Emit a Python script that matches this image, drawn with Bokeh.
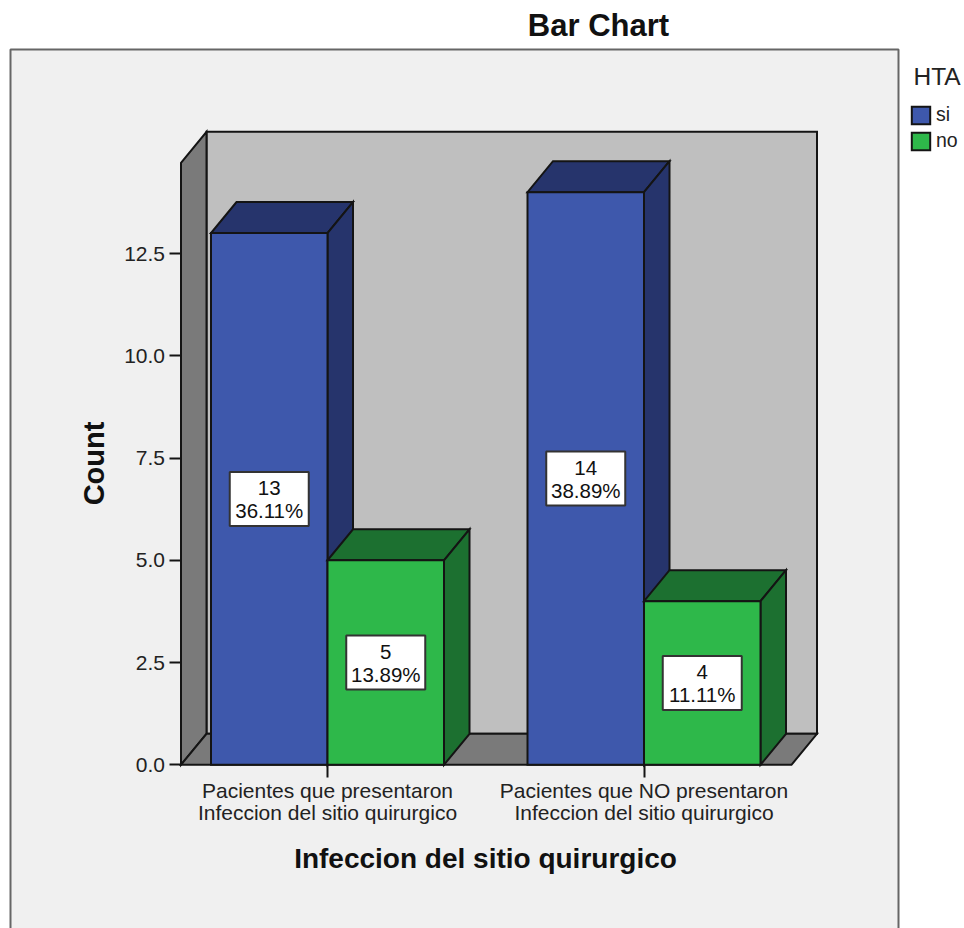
from bokeh.embed import file_html
from bokeh.resources import INLINE
from bokeh.plotting import figure
from bokeh.core.properties import value
from bokeh.models import (BoxAnnotation, FixedTicker, Label, Legend, LegendItem,
                          LinearAxis, NumeralTickFormatter)

# Chart values
group_labels = ["Pacientes que presentaron\nInfeccion del sitio quirurgico",
                "Pacientes que NO presentaron\nInfeccion del sitio quirurgico"]
series_names = ["si", "no"]
si_counts = [13, 14]
no_counts = [5, 4]
si_percent = ["36.11%", "38.89%"]
no_percent = ["13.89%", "11.11%"]
y_ticks = [0, 2.5, 5, 7.5, 10, 12.5]
y_top = 14.72

# Scale of the plot area
W, H = 964, 928
PX_X = 316.5   # pixels per category step
PX_Y = 40.9    # pixels per count
X0, Y0 = 327, 764.3  # pixel position of the first category at count 0
BAR = 116.5 / PX_X
DX, DY = 25.5 / PX_X, 31 / PX_Y  # depth of the 3-D box in data units
EDGE = "#141414"
FONT = "Liberation Sans"
x_left = -30 / PX_X - BAR
x_right = 1 + BAR + 31 / PX_X

p = figure(width=W, height=H, output_backend="svg", toolbar_location=None,
           x_range=(-X0 / PX_X, (W - X0) / PX_X),
           y_range=((Y0 - H) / PX_Y, Y0 / PX_Y),
           min_border=0, x_axis_type=None, y_axis_type=None)
p.grid.visible = False
p.outline_line_color = None
p.background_fill_color = "white"
p.border_fill_color = "white"

p.add_layout(BoxAnnotation(left=10, right=898, top=49, bottom=940,
                           left_units="canvas", right_units="canvas",
                           top_units="canvas", bottom_units="canvas",
                           fill_color="#f0f0f0", fill_alpha=1,
                           line_color="#666666", line_alpha=1, line_width=2,
                           level="underlay"))

# Walls and floor of the 3-D box
wall = dict(line_color=EDGE, line_width=2, line_join="miter")
p.patch([x_left + DX, x_right + DX, x_right + DX, x_left + DX],
        [DY, DY, y_top + DY, y_top + DY], fill_color="#bfbfbf", **wall)
p.patch([x_left, x_left + DX, x_left + DX, x_left],
        [0, DY, y_top + DY, y_top], fill_color="#7a7a7a", **wall)
p.patch([x_left, x_right, x_right + DX, x_left + DX],
        [0, 0, DY, DY], fill_color="#7a7a7a", **wall)


def bar_3d(left, v, front, shade):
    """Front, top and side faces of one bar."""
    right = left + BAR
    p.patch([left, right, right + DX, left + DX], [v, v, v + DY, v + DY],
            fill_color=shade, **wall)
    p.patch([right, right + DX, right + DX, right], [0, DY, v + DY, v],
            fill_color=shade, **wall)
    return p.vbar(x=[left + BAR / 2], top=[v], bottom=0, width=BAR,
                  fill_color=front, line_color=EDGE, line_width=2, line_join="miter")


swatches = {}
for i in range(2):
    swatches["si"] = bar_3d(i - BAR, si_counts[i], "#3e58ac", "#26346c")
    swatches["no"] = bar_3d(i, no_counts[i], "#2eb84a", "#1c7030")

# Boxed value labels at the middle of each bar
for offset, counts, pcts in ((-BAR / 2, si_counts, si_percent),
                             (BAR / 2, no_counts, no_percent)):
    xs = [i + offset for i in range(2)]
    ys = [c / 2 for c in counts]
    p.rect(xs, ys, width=79, height=54, width_units="screen", height_units="screen",
           fill_color="white", line_color="#333333", line_width=2)
    p.text(xs, ys, text=[f"{c}\n{t}" for c, t in zip(counts, pcts)],
           text_align="center", text_baseline="middle", text_font=value(FONT),
           text_font_size="20.5px", text_color="#111111", text_line_height=1.0)

# Axes
y_axis = LinearAxis(fixed_location=x_left, ticker=FixedTicker(ticks=y_ticks),
                    formatter=NumeralTickFormatter(format="0.0"),
                    axis_line_color=None, major_tick_in=0, major_tick_out=12,
                    minor_tick_line_color=None, major_tick_line_color=EDGE,
                    major_tick_line_width=2, major_label_standoff=4,
                    major_label_text_font=FONT, major_label_text_font_size="21px",
                    major_label_text_color="#222222")
p.add_layout(y_axis, "left")

x_axis = LinearAxis(fixed_location=0, ticker=FixedTicker(ticks=[0, 1]),
                    major_label_overrides={0: group_labels[0], 1: group_labels[1]},
                    axis_line_color=None, major_tick_in=0, major_tick_out=13,
                    minor_tick_line_color=None, major_tick_line_color=EDGE,
                    major_tick_line_width=2, major_label_standoff=1,
                    major_label_text_font=FONT, major_label_text_font_size="21px",
                    major_label_text_color="#222222", major_label_text_line_height=0.95)
p.add_layout(x_axis, "below")

# Titles
p.add_layout(Label(x=598, y=H - 25, x_units="screen", y_units="screen", text="Bar Chart",
                   text_font=FONT, text_font_style="bold", text_font_size="31px",
                   text_align="center", text_baseline="middle", text_color="#111111"))
p.add_layout(Label(x=485, y=H - 858, x_units="screen", y_units="screen",
                   text="Infeccion del sitio quirurgico",
                   text_font=FONT, text_font_style="bold", text_font_size="28px",
                   text_align="center", text_baseline="middle", text_color="#111111"))
p.add_layout(Label(x=93, y=H - 463, x_units="screen", y_units="screen", text="Count",
                   angle=90, angle_units="deg",
                   text_font=FONT, text_font_style="bold", text_font_size="29px",
                   text_align="center", text_baseline="middle", text_color="#111111"))
p.add_layout(Label(x=913, y=H - 76, x_units="screen", y_units="screen", text="HTA",
                   text_font=FONT, text_font_size="24.5px",
                   text_align="left", text_baseline="middle", text_color="#222222"))

legend = Legend(items=[LegendItem(label=series_names[0], renderers=[swatches["si"]]),
                       LegendItem(label=series_names[1], renderers=[swatches["no"]])],
                location=(909, H - 152), orientation="vertical",
                background_fill_alpha=0, border_line_color=None,
                padding=0, margin=0, spacing=3, glyph_width=23, glyph_height=22,
                label_standoff=4, label_height=22,
                label_text_font=FONT, label_text_font_size="19.5px",
                label_text_color="#222222")
p.add_layout(legend)

open("out.html", "w").write(file_html(p, INLINE))
